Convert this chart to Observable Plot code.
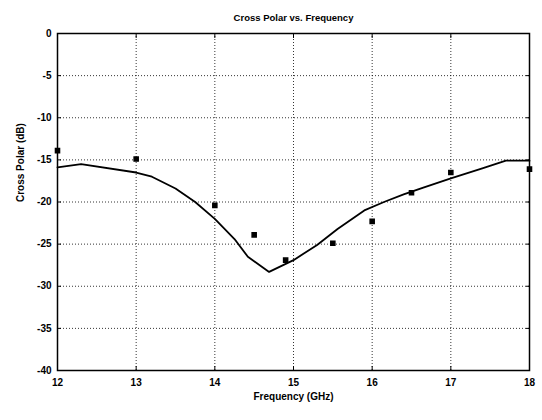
<!DOCTYPE html>
<html>
<head>
<meta charset="utf-8">
<script src="https://cdn.jsdelivr.net/npm/d3@7"></script>
<script src="https://cdn.jsdelivr.net/npm/@observablehq/plot@0.6"></script>
<style>
  html, body { margin: 0; padding: 0; background: #fff; }
  svg { font-family: "Liberation Sans", Arial, sans-serif; }
</style>
</head>
<body>
<div id="chart"></div>
<script>
const title = "Cross Polar vs. Frequency";
const xLabel = "Frequency (GHz)";
const yLabel = "Cross Polar (dB)";
const xTicks = [12, 13, 14, 15, 16, 17, 18];
const yTicks = [0, -5, -10, -15, -20, -25, -30, -35, -40];

// simulated curve
const lineFreq = [12, 12.3, 13, 13.2, 13.5, 13.75, 14, 14.25, 14.42, 14.69, 15, 15.3, 15.56, 15.9, 16.15, 16.4, 16.65, 17, 17.4, 17.7, 18];
const lineDb   = [-15.9, -15.5, -16.5, -17.0, -18.4, -20.0, -22.0, -24.4, -26.5, -28.3, -26.9, -25.1, -23.2, -21.0, -20.0, -19.1, -18.3, -17.2, -16.0, -15.1, -15.1];

// measured points
const ptFreq = [12, 13, 14, 14.5, 14.9, 15.5, 16, 16.5, 17, 18];
const ptDb   = [-13.9, -14.9, -20.4, -23.9, -26.9, -24.9, -22.3, -18.9, -16.5, -16.1];

const line = lineFreq.map((f, i) => ({f, v: lineDb[i]}));
const pts = ptFreq.map((f, i) => ({f, v: ptDb[i]}));

const fmt = d => String(d);

const chart = Plot.plot({
  width: 542,
  height: 420,
  marginLeft: 57,
  marginRight: 13,
  marginTop: 33,
  marginBottom: 50,
  style: {fontFamily: "'Liberation Sans', Arial, sans-serif", fontSize: "10px", fontWeight: "bold", color: "#000", background: "#fff"},
  x: {domain: [12, 18]},
  y: {domain: [-40, 0]},
  marks: [
    Plot.gridX(xTicks, {stroke: "#000", strokeOpacity: 1, strokeWidth: 0.8, strokeDasharray: "1,2"}),
    Plot.gridY(yTicks, {stroke: "#000", strokeOpacity: 1, strokeWidth: 0.8, strokeDasharray: "1,2"}),
    Plot.axisX({ticks: xTicks, tickFormat: fmt, tickSize: 0, tickPadding: 8, label: null, fontWeight: "bold", fontSize: 10}),
    Plot.axisX({ticks: xTicks, tickSize: -4, text: null, label: null}),
    Plot.axisX({ticks: xTicks, anchor: "top", tickSize: -4, text: null, label: null}),
    Plot.axisY({ticks: yTicks, tickFormat: fmt, tickSize: 0, tickPadding: 6, label: null, fontWeight: "bold", fontSize: 10}),
    Plot.axisY({ticks: yTicks, tickSize: -4, text: null, label: null}),
    Plot.axisY({ticks: yTicks, anchor: "right", tickSize: -4, text: null, label: null}),
    Plot.frame({stroke: "#000", strokeWidth: 1.5}),
    Plot.line(line, {x: "f", y: "v", stroke: "#000", strokeWidth: 1.8}),
    Plot.dot(pts, {x: "f", y: "v", symbol: "square", r: 2.3, fill: "#000", stroke: "#000"}),
    Plot.text([title], {frameAnchor: "top", dy: -19, fontSize: 9.5, fontWeight: "bold"}),
    Plot.text([xLabel], {frameAnchor: "bottom", dy: 29, fontSize: 10, fontWeight: "bold"}),
    Plot.text([yLabel], {frameAnchor: "left", dx: -37, rotate: -90, fontSize: 10, fontWeight: "bold"})
  ]
});
document.getElementById("chart").appendChild(chart);
</script>
</body>
</html>
